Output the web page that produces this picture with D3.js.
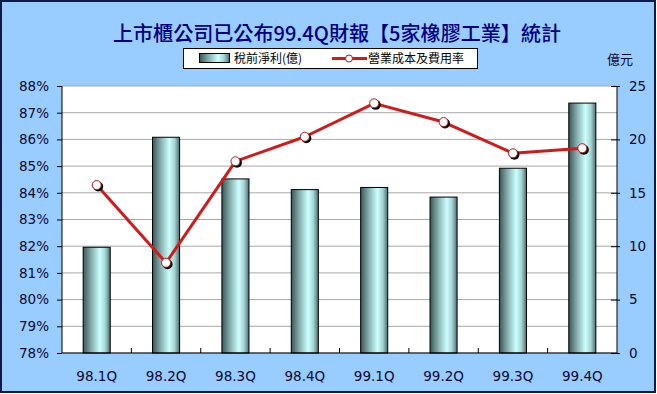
<!DOCTYPE html>
<html><head><meta charset="utf-8">
<script src="https://cdn.jsdelivr.net/npm/d3@7"></script>
<style>body{margin:0;background:#fff}svg{display:block}</style>
</head><body>
<script>
const categories = ["98.1Q","98.2Q","98.3Q","98.4Q","99.1Q","99.2Q","99.3Q","99.4Q"];
const profit = [9.9, 20.2, 16.3, 15.3, 15.5, 14.6, 17.3, 23.4];
const costRate = [84.29, 81.38, 85.18, 86.1, 87.35, 86.65, 85.48, 85.67];
const leftTicks = [78,79,80,81,82,83,84,85,86,87,88];
const rightTicks = [0,5,10,15,20,25];
const title = "上市櫃公司已公布99.4Q財報【5家橡膠工業】統計";
const legendBar = "稅前淨利(億)";
const legendLine = "營業成本及費用率";
const unitLabel = "億元";

const W = 657, H = 394;
const m = {l:62, r:617, t:86, b:353};
const svg = d3.select("body").append("svg").attr("width", W).attr("height", H);

const defs = svg.append("defs");
const g = defs.append("linearGradient").attr("id","barg").attr("x1","0").attr("x2","1").attr("y1","0").attr("y2","0");
[[0,"#3b5656"],[0.3,"#86aeae"],[0.62,"#ccffff"],[0.82,"#a3d2d2"],[1,"#4d6d6d"]].forEach(([o,c])=>g.append("stop").attr("offset",o).attr("stop-color",c));

svg.append("rect").attr("x",1).attr("y",1).attr("width",W-3).attr("height",H-3)
  .attr("fill","#99ccff").attr("stroke","#0d1a4a").attr("stroke-width",2);

svg.append("text").attr("x",337).attr("y",41).attr("text-anchor","middle")
  .attr("font-family","'Noto Sans CJK TC', sans-serif").attr("font-size",20).attr("font-weight",500)
  .attr("fill","#000080").attr("textLength",448).attr("lengthAdjust","spacingAndGlyphs").text(title);

const x = d3.scaleBand().domain(categories).range([m.l, m.r]).paddingInner(0.61).paddingOuter(0.305);
const xc = d3.scaleBand().domain(categories).range([m.l, m.r]);
const yL = d3.scaleLinear().domain([78,88]).range([m.b, m.t]);
const yR = d3.scaleLinear().domain([0,25]).range([m.b, m.t]);

svg.append("rect").attr("x",m.l).attr("y",m.t).attr("width",m.r-m.l).attr("height",m.b-m.t).attr("fill","#fff");

svg.append("g").selectAll("line").data(leftTicks).join("line")
  .attr("x1",m.l).attr("x2",m.r).attr("y1",d=>yL(d)).attr("y2",d=>yL(d))
  .attr("stroke","#a8a8a8").attr("stroke-width",1);

svg.append("g").selectAll("rect").data(categories).join("rect")
  .attr("x",d=>x(d)).attr("width",x.bandwidth())
  .attr("y",(d,i)=>yR(profit[i])).attr("height",(d,i)=>yR(0)-yR(profit[i]))
  .attr("fill","url(#barg)").attr("stroke","#000").attr("stroke-width",1);

const font = "'DejaVu Sans', Verdana, sans-serif";
const tc = "#0a0a33";

// left axis
const la = svg.append("g").attr("transform",`translate(${m.l},0)`)
  .call(d3.axisLeft(yL).tickValues(leftTicks).tickSize(5).tickPadding(8).tickFormat(d=>d+"%"));
la.select(".domain").attr("stroke","#000").attr("d",`M0,${m.t}V${m.b}`);
la.selectAll(".tick line").attr("stroke","#000");
la.selectAll("text").attr("font-family",font).attr("font-size",13.5).attr("fill",tc);

// right axis
const ra = svg.append("g").attr("transform",`translate(${m.r},0)`)
  .call(d3.axisRight(yR).tickValues(rightTicks).tickSize(4).tickPadding(8));
ra.select(".domain").attr("stroke","#000").attr("d",`M0,${m.t}V${m.b}`);
ra.selectAll(".tick line").attr("stroke","#000").attr("x1",-6).attr("x2",3);
ra.selectAll("text").attr("font-family",font).attr("font-size",13.5).attr("fill",tc);

// bottom axis
const ba = svg.append("g").attr("transform",`translate(0,${m.b})`)
  .call(d3.axisBottom(xc).tickSize(0).tickPadding(18));
ba.select(".domain").attr("stroke","#000").attr("d",`M${m.l},0H${m.r}`);
ba.selectAll("text").attr("font-family",font).attr("font-size",13.5).attr("fill",tc);
ba.append("g").selectAll("line").data(categories.slice(1)).join("line")
  .attr("x1",d=>xc(d)).attr("x2",d=>xc(d)).attr("y1",0).attr("y2",-5).attr("stroke","#000");

// line
const line = d3.line().x((d,i)=>xc(categories[i])+xc.bandwidth()/2).y(d=>yL(d));
svg.append("path").datum(costRate).attr("d",line).attr("fill","none")
  .attr("stroke","#d11a1a").attr("stroke-width",3).attr("stroke-linejoin","round");
const pts = svg.append("g");
pts.selectAll("circle.s").data(costRate).join("circle").attr("class","s")
  .attr("cx",(d,i)=>xc(categories[i])+xc.bandwidth()/2+1.5).attr("cy",d=>yL(d)+1.5).attr("r",5).attr("fill","#000");
pts.selectAll("circle.p").data(costRate).join("circle").attr("class","p")
  .attr("cx",(d,i)=>xc(categories[i])+xc.bandwidth()/2).attr("cy",d=>yL(d)).attr("r",4.5)
  .attr("fill","#fff").attr("stroke","#b01818").attr("stroke-width",1);

// unit label
svg.append("text").attr("x",607).attr("y",64).attr("font-family","'Noto Sans CJK TC', sans-serif")
  .attr("font-size",13).attr("fill",tc).text(unitLabel);

// legend
const lg = svg.append("g");
lg.append("rect").attr("x",183.5).attr("y",48.5).attr("width",294).attr("height",20).attr("fill","#fff").attr("stroke","#000");
lg.append("rect").attr("x",199.5).attr("y",53.5).attr("width",30).attr("height",9).attr("fill","url(#barg)").attr("stroke","#000");
lg.append("text").attr("x",234).attr("y",63).attr("font-family","'Noto Sans CJK TC', sans-serif").attr("font-size",12).attr("fill","#000").text(legendBar);
lg.append("line").attr("x1",332).attr("x2",367).attr("y1",58.5).attr("y2",58.5).attr("stroke","#d11a1a").attr("stroke-width",3);
lg.append("circle").attr("cx",349).attr("cy",58.5).attr("r",3.5).attr("fill","#fff").attr("stroke","#b01818");
lg.append("text").attr("x",368).attr("y",63).attr("font-family","'Noto Sans CJK TC', sans-serif").attr("font-size",12).attr("fill","#000").text(legendLine);
</script>
</body></html>
